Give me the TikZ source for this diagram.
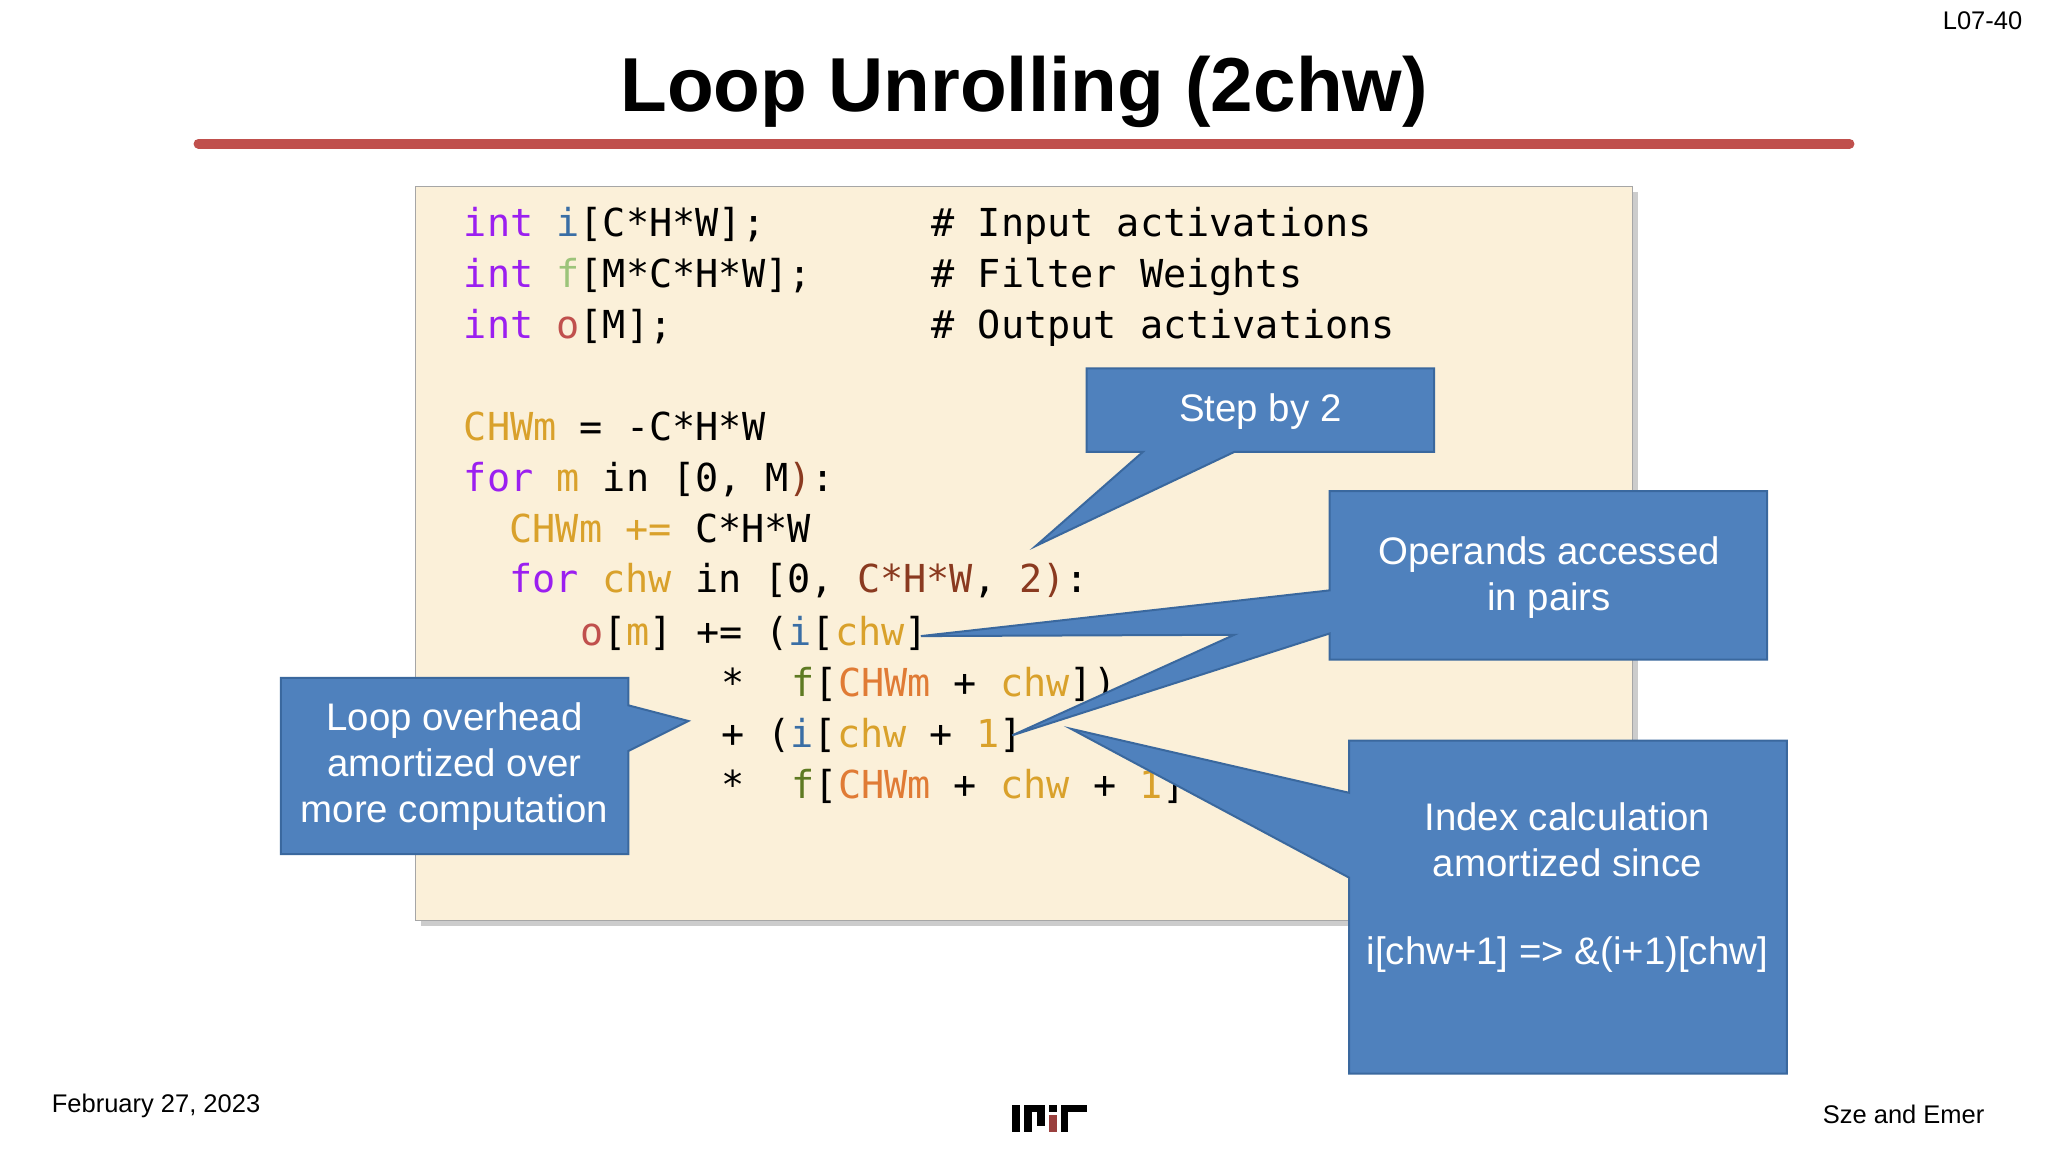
\documentclass[tikz,border=0pt]{standalone}
\usepackage{fontspec}
\setmainfont{Liberation Sans}
\setmonofont{DejaVu Sans Mono}
\begin{document}
\definecolor{kw}{HTML}{9B1FF0}
\definecolor{iv}{HTML}{3A6EA5}
\definecolor{fl}{HTML}{9CC47A}
\definecolor{fv}{HTML}{5E7A22}
\definecolor{ov}{HTML}{C0504D}
\definecolor{gd}{HTML}{D9A12B}
\definecolor{or}{HTML}{E07B35}
\definecolor{br}{HTML}{8A3A20}
\definecolor{cb}{HTML}{4F81BD}
\definecolor{cbd}{HTML}{3A689E}
\definecolor{bg}{HTML}{FBF0D9}
\begin{tikzpicture}[x=1.3061pt,y=-1.3061pt,
  code/.style={anchor=base west,inner sep=0pt,font=\fontsize{38.5}{40}\selectfont\ttfamily},
  call/.style={fill=cb,draw=cbd,line width=2pt,line join=miter},
  ctext/.style={text=white,font=\fontsize{38.4}{46}\selectfont,align=center},
  foot/.style={font=\fontsize{25.5}{28}\selectfont}]
\useasboundingbox (0,0) rectangle (1568,882);
\fill[white] (0,0) rectangle (1568,882);
\node[font=\fontsize{76.5}{84}\selectfont\bfseries] (title) at (784,70) {Loop Unrolling (2chw)};
\draw[line width=10pt,line cap=round,color=ov] (152,110) -- (1416,110);
\node[foot,anchor=east] (pg) at (1551,16) {L07-40};
% code box
\fill[gray!40] (322,147) rectangle (1254,709);
\draw[fill=bg,draw=gray!70,line width=1pt] (318,143) rectangle (1250,705);
\node[code] (c1) at (355,181) {\textcolor{kw}{int} \textcolor{iv}{i}[C*H*W];};
\node[code] (c1b) at (713,181) {\# Input activations};
\node[code] (c2) at (355,220) {\textcolor{kw}{int} \textcolor{fl}{f}[M*C*H*W];};
\node[code] (c2b) at (713,220) {\# Filter Weights};
\node[code] (c3) at (355,259) {\textcolor{kw}{int} \textcolor{ov}{o}[M];};
\node[code] (c3b) at (713,259) {\# Output activations};
\node[code] (c5) at (355,337) {\textcolor{gd}{CHWm} = -C*H*W};
\node[code] (c6) at (355,376) {\textcolor{kw}{for} \textcolor{gd}{m} in [0, M\textcolor{br}{)}:};
\node[code] (c7) at (390,415) {\textcolor{gd}{CHWm} \textcolor{gd}{+=} C*H*W};
\node[code] (c8) at (390,454) {\textcolor{kw}{for} \textcolor{gd}{chw} in [0, \textcolor{br}{C*H*W}, \textcolor{br}{2)}:};
\node[code] (c9) at (444,494) {\textcolor{ov}{o}[\textcolor{gd}{m}] += (\textcolor{iv}{i}[\textcolor{gd}{chw}]};
\node[code] (c10a) at (552,533) {*};
\node[code] (c10) at (606,533) {\textcolor{fv}{f}[\textcolor{or}{CHWm} + \textcolor{gd}{chw}])};
\node[code] (c11) at (552,572) {+ (\textcolor{iv}{i}[\textcolor{gd}{chw} + \textcolor{gd}{1}]};
\node[code] (c12a) at (552,611) {*};
\node[code] (c12) at (606,611) {\textcolor{fv}{f}[\textcolor{or}{CHWm} + \textcolor{gd}{chw} + \textcolor{gd}{1}]};
% callouts
\draw[call] (832,282) -- (1098,282) -- (1098,346) -- (945,346) -- (793,418) -- (875,346) -- (832,346) -- cycle;
\node[ctext] (s1) at (965,315) {Step by 2};
\draw[call] (1018,376) -- (1353,376) -- (1353,505) -- (1018,505) -- (1018,485) -- (775,563) -- (945,486) -- (705,487) -- (1018,452) -- cycle;
\node[ctext] (s2) at (1186,442) {Operands accessed\\in pairs};
\draw[call] (215,519) -- (481,519) -- (481,540) -- (527,552) -- (481,575) -- (481,654) -- (215,654) -- cycle;
\node[ctext] (s3) at (348,587) {Loop overhead\\amortized over\\more computation};
\draw[call] (1033,567) -- (1368,567) -- (1368,822) -- (1033,822) -- (1033,672) -- (820,558) -- (1033,607) -- cycle;
\node[ctext] (s4) at (1200,643) {Index calculation\\amortized since};
\node[ctext] (s5) at (1200,731) {i[chw+1] => \&(i+1)[chw]};
% footer
\node[foot,anchor=west] (date) at (37,847) {February 27, 2023};
\node[foot,anchor=east] (auth) at (1522,853) {Sze and Emer};
\fill[black] (775,846) rectangle (781,867);
\fill[black] (784,846) rectangle (790,867);
\fill[black] (784,846) rectangle (800,851);
\fill[black] (794,846) rectangle (800,862);
\fill[black] (803,846) rectangle (809,851);
\fill[ov!80!black] (803,854) rectangle (809,867);
\fill[black] (812,846) rectangle (832,851);
\fill[black] (812,846) rectangle (818,867);
\end{tikzpicture}
\end{document}
